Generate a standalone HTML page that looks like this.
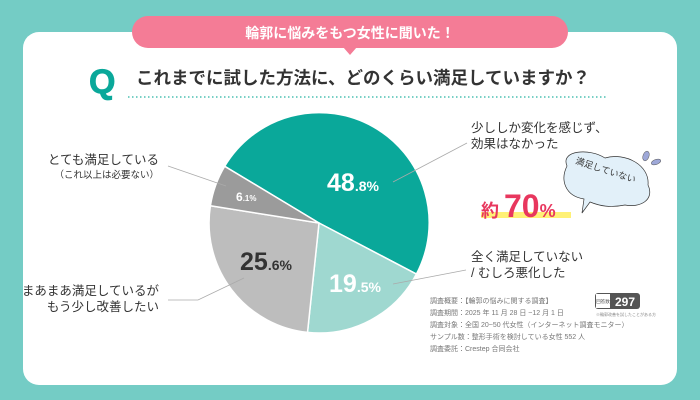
<!DOCTYPE html>
<html><head><meta charset="utf-8"><style>
body{margin:0;width:700px;height:400px;overflow:hidden;background:#74CCC5;font-family:"Liberation Sans","Noto Sans CJK JP",sans-serif;}
</style></head><body>
<svg width="700" height="400" xmlns="http://www.w3.org/2000/svg" style="display:block;font-family:'Liberation Sans','Noto Sans CJK JP',sans-serif">
<rect x="0" y="0" width="700" height="400" fill="#74CCC5"/>
<rect x="23" y="32" width="654" height="353" rx="16" fill="#fff"/>
<rect x="132" y="16" width="436" height="32" rx="16" fill="#F47C96"/>
<polygon points="343,47 357,47 350,55" fill="#F47C96"/>
<text x="350" y="38" text-anchor="middle" font-size="14" font-weight="bold" fill="#fff">輪郭に悩みをもつ女性に聞いた！</text>
<text x="89" y="93" font-size="34" font-weight="bold" fill="#0AA89A" stroke="#0AA89A" stroke-width="0.8">Q</text>
<text x="136" y="84" font-size="17.5" font-weight="bold" fill="#333">これまでに試した方法に、どのくらい満足していますか？</text>
<line x1="128" y1="97" x2="606" y2="97" stroke="#4CC0B2" stroke-width="1.5" stroke-dasharray="1.5,2.5"/>
<path d="M319,223 L224.7,166.3 A110,110 0 0 1 416.4,274.1 Z" fill="#0AA89A" stroke="#fff" stroke-width="1.5"/>
<path d="M319,223 L416.4,274.1 A110,110 0 0 1 307.5,332.4 Z" fill="#9FD8D0" stroke="#fff" stroke-width="1.5"/>
<path d="M319,223 L307.5,332.4 A110,110 0 0 1 210.4,205.8 Z" fill="#BDBDBD" stroke="#fff" stroke-width="1.5"/>
<path d="M319,223 L210.4,205.8 A110,110 0 0 1 224.7,166.3 Z" fill="#9B9B9B" stroke="#fff" stroke-width="1.5"/>
<text x="327" y="191" font-size="25" font-weight="bold" fill="#fff">48<tspan font-size="14">.8%</tspan></text>
<text x="329" y="292" font-size="25" font-weight="bold" fill="#fff">19<tspan font-size="14">.5%</tspan></text>
<text x="240" y="270" font-size="25" font-weight="bold" fill="#333">25<tspan font-size="14">.6%</tspan></text>
<text x="236" y="201" font-size="12" font-weight="bold" fill="#fff">6<tspan font-size="8">.1%</tspan></text>
<g stroke="#aaa" stroke-width="0.8" fill="none">
<polyline points="393,182 467,143"/>
<polyline points="393,284 466,270"/>
<polyline points="244,278 198,300 168,300"/>
<polyline points="226,186 168,166"/>
</g>
<g fill="#333">
<text x="159" y="164" font-size="12.5" text-anchor="end">とても満足している</text>
<text x="159" y="178" font-size="9.5" text-anchor="end">（これ以上は必要ない）</text>
<text x="159" y="295" font-size="12.5" text-anchor="end">まあまあ満足しているが</text>
<text x="159" y="311" font-size="12.5" text-anchor="end">もう少し改善したい</text>
<text x="471" y="132" font-size="12.5">少ししか変化を感じず、</text>
<text x="471" y="148" font-size="12.5">効果はなかった</text>
<text x="471" y="261" font-size="12.5">全く満足していない</text>
<text x="471" y="277" font-size="12.5">/ むしろ悪化した</text>
</g>
<path d="M567,166 C560,150 590,148 605,158 C625,152 650,165 648,185 C655,200 640,208 625,205 C610,208 600,206 590,202 L582,213 L584,199 C565,196 560,180 567,166 Z" fill="#E2F0F9" stroke="#333" stroke-width="0.7"/>
<ellipse cx="646" cy="156" rx="3" ry="5" fill="#9EA8D8" stroke="#555" stroke-width="0.5" transform="rotate(20 646 156)"/>
<ellipse cx="656" cy="162" rx="5" ry="2.5" fill="#9EA8D8" stroke="#555" stroke-width="0.5" transform="rotate(-20 656 162)"/>
<text x="571" y="172" font-size="9" fill="#333" transform="rotate(18 600 180)">満足していない</text>
<rect x="481" y="212" width="90" height="6" fill="#FFF176"/>
<text x="481" y="217" font-size="18" font-weight="bold" fill="#E8375E">約</text>
<text x="504" y="217" font-size="32" font-weight="bold" fill="#E8375E">70<tspan font-size="18">%</tspan></text>
<g fill="#777" font-size="7">
<text x="430" y="303">調査概要：【輪郭の悩みに関する調査】</text>
<text x="430" y="315">調査期間：2025 年 11 月 28 日 ~12 月 1 日</text>
<text x="430" y="327">調査対象：全国 20~50 代女性（インターネット調査モニター）</text>
<text x="430" y="339">サンプル数：整形手術を検討している女性 552 人</text>
<text x="430" y="351">調査委託：Crestep 合同会社</text>
</g>
<rect x="595" y="293" width="45" height="16" rx="3" fill="#555"/>
<rect x="596" y="294" width="14" height="14" fill="#fff"/>
<text x="603" y="303" font-size="4.5" fill="#555" text-anchor="middle">回答数</text>
<text x="625" y="306" font-size="12" font-weight="bold" fill="#fff" text-anchor="middle">297</text>
<text x="596" y="316" font-size="4" fill="#888">※輪郭改善を試したことがある方</text>
</svg>
</body></html>
